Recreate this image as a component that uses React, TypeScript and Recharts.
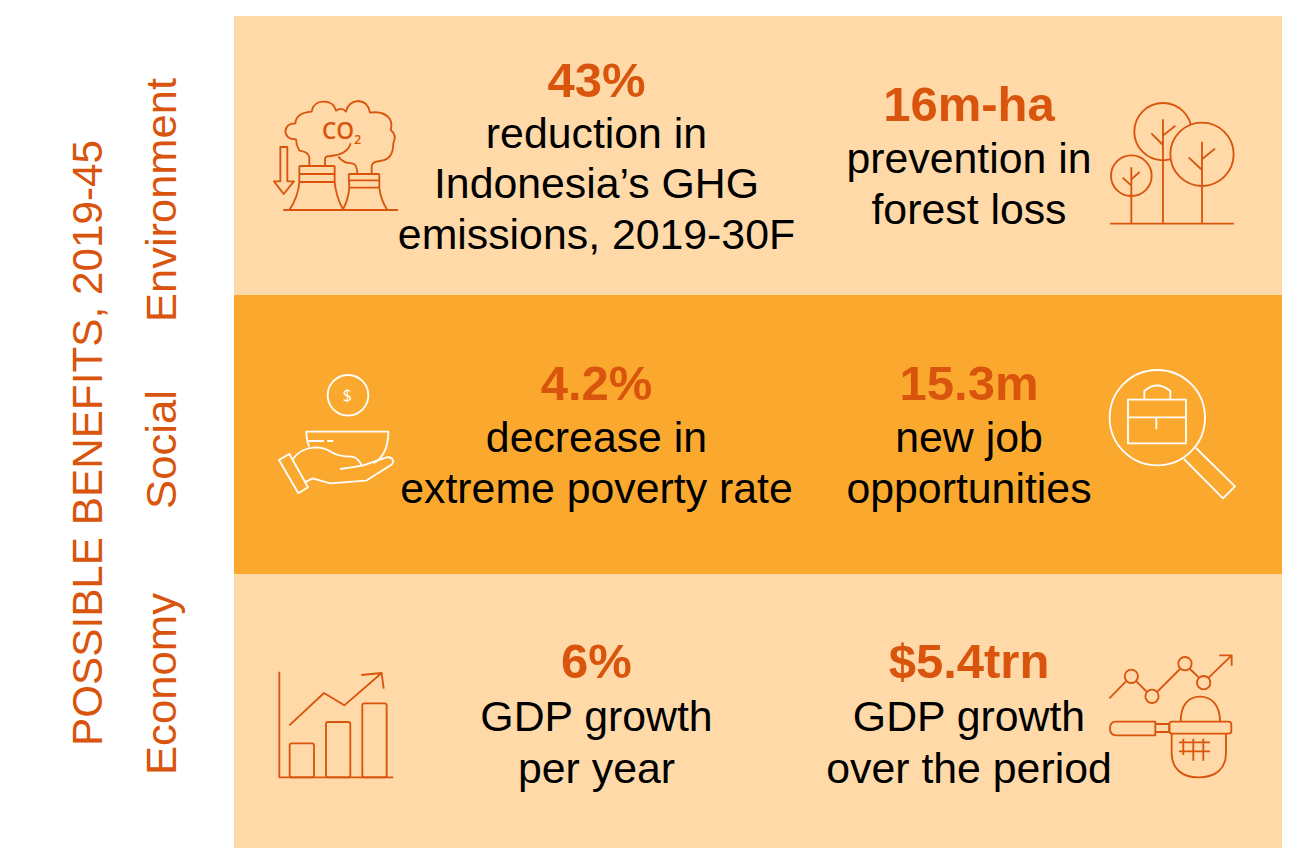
import React from "react";
import { BarChart, Bar, XAxis, YAxis } from "recharts";

const categories = ["Environment", "Social", "Economy"];
const bandValues = [1, 1, 1];
const bandColors = ["#FFD9A8", "#FBA92E", "#FFD9A8"];
const chartTitle = "POSSIBLE BENEFITS, 2019-45";
const leftHeadlines = ["43%", "4.2%", "6%"];
const rightHeadlines = ["16m-ha", "15.3m", "$5.4trn"];
const leftLines = [
  ["reduction in", "Indonesia’s GHG", "emissions, 2019-30F"],
  ["decrease in", "extreme poverty rate"],
  ["GDP growth", "per year"],
];
const rightLines = [
  ["prevention in", "forest loss"],
  ["new job", "opportunities"],
  ["GDP growth", "over the period"],
];

const ORANGE = "#D9540C";
const FONT = "'Liberation Sans', Arial, sans-serif";
const data = categories.map((name, i) => ({ name, value: bandValues[i] }));

const Block = ({ x, y, head, lines, gap = 51, offset = 1 }: any) => (
  <g textAnchor="middle" fontFamily={FONT}>
    <text x={x} y={y} fontSize={49} fontWeight="bold" fill={ORANGE}>{head}</text>
    {lines.map((l: string, i: number) => (
      <text key={l} x={x} y={y + offset + gap * (i + 1)} fontSize={42.8} fill="#000">{l}</text>
    ))}
  </g>
);

const Rot = ({ x, y, size, length, children }: any) => (
  <text transform={`translate(${x},${y}) rotate(-90)`} fontFamily={FONT} fontSize={size} fill={ORANGE} textLength={length} lengthAdjust="spacingAndGlyphs">{children}</text>
);

const Icon = ({ x, y, color, children }: any) => (
  <g transform={`translate(${x},${y}) scale(0.3333)`} fill="none" stroke={color} strokeWidth={5.5} strokeLinejoin="round">{children}</g>
);

const Co2 = () => (
  <Icon x={260} y={80} color={ORANGE}>
    <path d="M148 258L148 232Q146 216 118 212Q108 195 108 178Q78 178 76 155Q78 130 106 130Q108 98 155 95Q160 65 190 65Q222 65 228 92Q245 80 258 95Q265 65 295 63Q325 65 330 98Q370 92 388 115Q398 130 392 150Q412 165 400 190Q400 240 360 243Q337 245 335 258L335 282" />
    <path d="M195 258L195 238Q195 228 210 228Q262 225 272 190" />
    <path d="M235 230Q250 250 275 250Q292 250 292 282" />
    <path d="M118 258H224M118 282H224M118 306H224M118 258V306Q115 350 88 390M224 258V306Q228 350 250 390" />
    <path d="M266 282H358M268 301H358M268 323H358M266 282L268 323Q265 360 248 390M358 282V323Q362 360 382 390" />
    <path d="M70 390H414" />
    <path d="M61 201H82V304H102L71 342L42 304H61Z" />
    <text x={186} y={176} fontFamily="'Open Sans', sans-serif" fontSize={68} fontWeight={600} fill={ORANGE} stroke="none">CO</text>
    <text x={282} y={193} fontFamily="'Open Sans', sans-serif" fontSize={38} fontWeight={600} fill={ORANGE} stroke="none">2</text>
  </Icon>
);

const Trees = () => (
  <Icon x={1090} y={90} color={ORANGE}>
    <circle cx={219} cy={125} r={86} />
    <circle cx={336} cy={193} r={95} fill={bandColors[0]} />
    <circle cx={124} cy={257} r={61} />
    <path d="M219 88V400M219 165L184 130M219 137L256 107" />
    <path d="M336 155V400M336 240L296 202M336 208L375 176" />
    <path d="M124 232V400M124 287L98 263M124 268L149 246" />
    <path d="M60 401H432" />
  </Icon>
);

const Hand = () => (
  <Icon x={260} y={365} color="#fff">
    <circle cx={264} cy={91} r={61} />
    <text x={262} y={108} textAnchor="middle" fontFamily="'Open Sans', sans-serif" fontSize={48} fill="#fff" stroke="none">$</text>
    <path d="M148 245Q140 230 139 200H385Q385 270 340 295" />
    <path d="M145 228H192M202 228H220" />
    <path d="M57 285L88 267L144 367L115 385Z" />
    <path d="M98 283Q120 250 165 247Q195 247 215 262Q235 275 275 275Q295 278 305 302Q295 305 240 312" />
    <path d="M305 303L380 277Q398 275 400 290Q398 300 380 308L318 347L210 355L158 340L134 352" />
  </Icon>
);

const Search = () => (
  <Icon x={1090} y={365} color="#fff">
    <circle cx={202} cy={158} r={143} />
    <path d="M318 249L435 364L399 400L282 282" />
    <path d="M114 104H288V235H114ZM114 157H288M199 157V193" />
    <path d="M163 104V78Q200 45 241 78V104" />
  </Icon>
);

const Growth = () => (
  <Icon x={260} y={650} color={ORANGE}>
    <path d="M58 65V382H400" />
    <rect x={89} y={280} width={73} height={102} rx={6} />
    <rect x={198} y={216} width={73} height={166} rx={6} />
    <rect x={307} y={160} width={73} height={222} rx={6} />
    <path d="M88 226L192 129L253 166L365 69M304 75L365 69L371 116" />
  </Icon>
);

const Net = () => (
  <Icon x={1090} y={640} color={ORANGE}>
    <path d="M58 175L108 124M139 124L170 155M202 155L270 87M300 87L327 113M356 113L425 46M388 46H425V77" />
    <circle cx={124} cy={109} r={20} />
    <circle cx={186} cy={169} r={20} />
    <circle cx={285} cy={71} r={20} />
    <circle cx={341} cy={128} r={20} />
    <path d="M196 245H78Q60 245 60 265Q60 286 78 286H196Z" />
    <path d="M196 252H238V276H196" />
    <rect x={238} y={245} width={186} height={36} rx={8} />
    <path d="M272 245C272 195 295 170 330 170C365 170 390 195 390 245" />
    <path d="M245 281V340C245 385 275 412 325 412C378 412 408 385 408 340V281" />
    <path d="M267 307H360M267 334H360M280 296V345M310 296V362M340 296V362" />
  </Icon>
);

const rowBlocks = [
  <g key="env">
    <Block x={596.5} y={97} head={leftHeadlines[0]} lines={leftLines[0]} gap={50.5} offset={0} />
    <Block x={969} y={121} head={rightHeadlines[0]} lines={rightLines[0]} />
    <Co2 />
    <Trees />
  </g>,
  <g key="soc">
    <Block x={596.5} y={400} head={leftHeadlines[1]} lines={leftLines[1]} />
    <Block x={969} y={400} head={rightHeadlines[1]} lines={rightLines[1]} />
    <Hand />
    <Search />
  </g>,
  <g key="eco">
    <Block x={596.5} y={678} head={leftHeadlines[2]} lines={leftLines[2]} gap={52} />
    <Block x={969} y={678} head={rightHeadlines[2]} lines={rightLines[2]} gap={52} />
    <Growth />
    <Net />
  </g>,
];

const BandShape = (p: any) => (
  <g>
    <rect x={p.x} y={p.y} width={p.width} height={p.height} fill={bandColors[p.index]} />
    {rowBlocks[p.index]}
  </g>
);

export default function App() {
  return (
    <div style={{ position: "absolute", left: 0, top: 0, width: 1296, height: 848, overflow: "hidden", background: "#fff" }}>
      <BarChart
        width={1296}
        height={853}
        data={data}
        layout="vertical"
        barCategoryGap={0}
        margin={{ left: 234, right: 14, top: 16, bottom: 0 }}
      >
        <XAxis type="number" hide domain={[0, 1]} />
        <YAxis type="category" dataKey="name" hide />
        <Bar dataKey="value" isAnimationActive={false} shape={BandShape} />
        <Rot x={101.5} y={746} size={43} length={606}>{chartTitle}</Rot>
        <Rot x={176} y={322} size={43} length={244}>{categories[0]}</Rot>
        <Rot x={176} y={509} size={43} length={119}>{categories[1]}</Rot>
        <Rot x={176} y={775} size={43} length={182}>{categories[2]}</Rot>
      </BarChart>
    </div>
  );
}
